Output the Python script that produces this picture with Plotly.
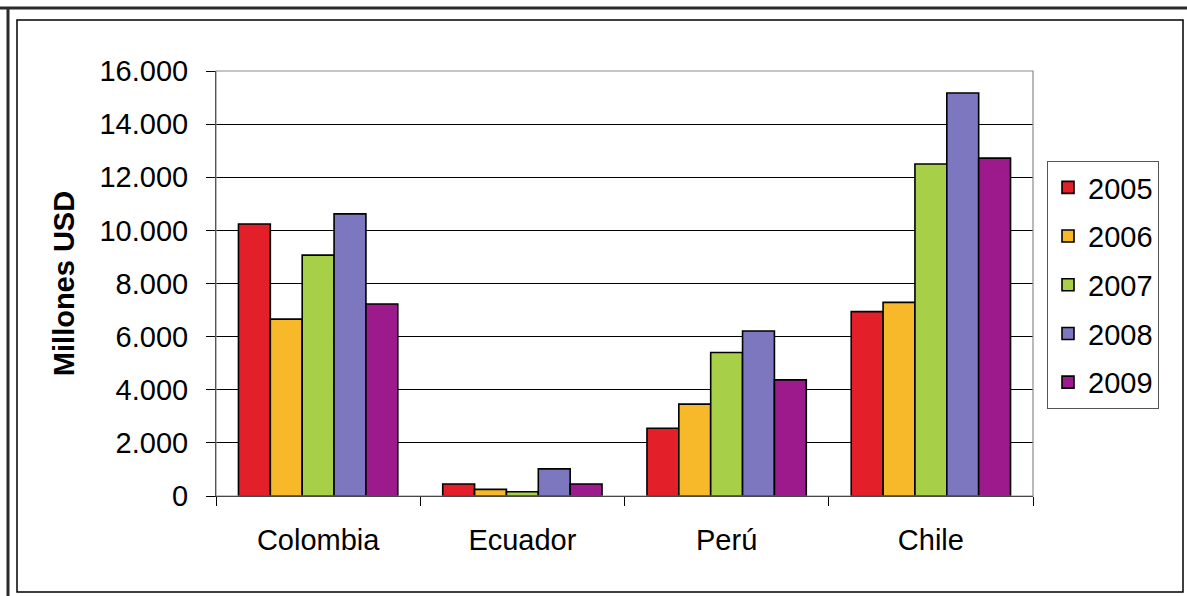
import plotly.graph_objects as go

# Export values (millions of USD) by country and year
countries = ["Colombia", "Ecuador", "Perú", "Chile"]
years = ["2005", "2006", "2007", "2008", "2009"]
values_2005 = [10240, 450, 2550, 6940]
values_2006 = [6660, 250, 3460, 7290]
values_2007 = [9070, 160, 5400, 12500]
values_2008 = [10620, 1020, 6210, 15170]
values_2009 = [7230, 450, 4370, 12720]
series = [values_2005, values_2006, values_2007, values_2008, values_2009]
colors = ["#E3202A", "#F7B82A", "#A8CF48", "#7D77BF", "#9C1A8B"]

y_tickvals = [0, 2000, 4000, 6000, 8000, 10000, 12000, 14000, 16000]
y_ticktext = ["0", "2.000", "4.000", "6.000", "8.000", "10.000", "12.000", "14.000", "16.000"]

W, H = 1187, 596
L, R, T, B = 216, 1033, 71, 496  # plot area in pixels

def px(x):
    return (x - L) / (R - L)

def py(y):
    return (B - y) / (B - T)

font = "Liberation Sans, Arial, sans-serif"

fig = go.Figure()
for yr, vals, col in zip(years, series, colors):
    fig.add_trace(go.Bar(
        x=countries, y=vals, name=yr, legendgroup=yr,
        marker=dict(color=col, line=dict(color="black", width=1.6)),
    ))

shapes = [
    # plot area frame
    dict(type="rect", xref="paper", yref="paper", x0=0, y0=0, x1=1, y1=1,
         line=dict(color="#8c8c8c", width=1.2), layer="above"),
    # outer page frame
    dict(type="line", xref="paper", yref="paper", x0=px(0), x1=px(W), y0=py(8), y1=py(8),
         line=dict(color="#2b2b2b", width=3)),
    dict(type="line", xref="paper", yref="paper", x0=px(8), x1=px(8), y0=py(8), y1=py(H),
         line=dict(color="#2b2b2b", width=3)),
    dict(type="rect", xref="paper", yref="paper", x0=px(17), x1=px(1183), y0=py(20), y1=py(592),
         line=dict(color="black", width=1.5)),
]

fig.update_layout(
    width=W, height=H,
    margin=dict(l=L, r=W - R, t=T, b=H - B, pad=0),
    paper_bgcolor="white", plot_bgcolor="white",
    barmode="group", bargap=0.22, bargroupgap=0,
    font=dict(family=font, size=29, color="black"),
    showlegend=True,
    legend=dict(
        x=px(1047), y=py(161), xanchor="left", yanchor="top",
        bordercolor="#555555", borderwidth=1, bgcolor="white",
        font=dict(size=29), tracegroupgap=8, itemwidth=30,
    ),
    shapes=shapes,
    xaxis=dict(
        type="category", showgrid=False, ticks="outside", tickson="boundaries",
        ticklen=9, tickcolor="black", showline=True, linecolor="black", linewidth=1,
        tickfont=dict(size=29), ticklabelstandoff=18,
    ),
    yaxis=dict(
        range=[0, 16000], tickvals=y_tickvals, ticktext=y_ticktext,
        showgrid=True, gridcolor="black", gridwidth=1,
        ticks="outside", ticklen=9, tickcolor="black",
        showline=True, linecolor="black", linewidth=1,
        zeroline=False, tickfont=dict(size=29), ticklabelstandoff=12,
        title=dict(text="<b>Millones USD</b>", font=dict(size=29), standoff=16),
    ),
)

fig.write_html("out.html")
